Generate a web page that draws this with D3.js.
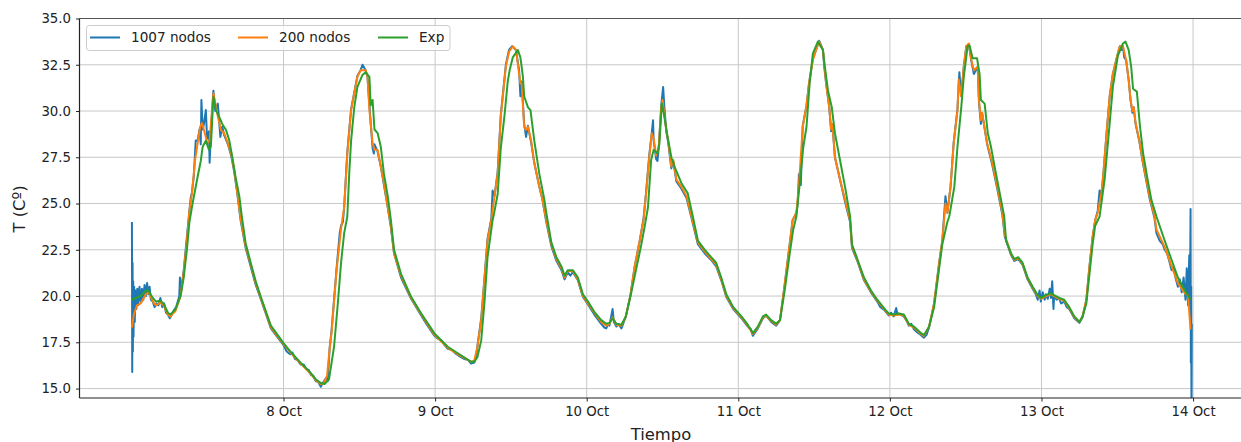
<!DOCTYPE html>
<html>
<head>
<meta charset="utf-8">
<script src="https://cdn.jsdelivr.net/npm/d3@7"></script>
<style>
  body { margin: 0; background: #fff; }
  svg { display: block; font-family: "DejaVu Sans", sans-serif; }
</style>
</head>
<body>
<svg width="1241" height="442"></svg>
<script>
// hours since 7 Oct 00:00, temperature in ºC
var series1007 = [
[0.0,24.0],[0.05,15.9],[0.1,21.8],[0.15,17.0],[0.2,20.8],[0.25,17.8],[0.35,20.5],[0.45,18.6],[0.55,20.3],[0.7,19.3],[0.85,20.4],[1.0,19.5],[1.2,20.5],[1.4,19.7],[1.6,20.4],[1.8,19.8],[2.0,20.6],[2.2,20.0],[2.4,20.7],[2.6,20.1],[2.8,20.5],[3.0,19.8],[3.3,19.7],[3.6,19.4],[3.9,19.6],[4.2,19.5],[4.5,19.9],[4.8,19.4],[5.1,19.6],[5.4,19.1],[5.7,19.0],[6.0,18.8],[6.3,19.0],[6.6,19.2],[7.0,19.4],[7.5,20.0],[7.6,21.0],[7.8,20.3],[8.2,21.4],[8.7,23.2],[9.1,24.6],[9.3,25.3],[9.5,25.6],[9.8,26.5],[10.1,28.4],[10.4,28.4],[10.7,29.0],[10.9,28.2],[11.0,30.6],[11.2,29.0],[11.4,29.3],[11.7,30.05],[11.9,28.5],[12.2,28.9],[12.3,27.2],[12.6,29.5],[12.9,31.1],[13.2,30.0],[13.6,30.4],[14.0,28.6],[14.3,29.15],[14.6,28.7],[15.2,28.2],[15.7,27.6],[16.2,26.7],[16.7,25.5],[17.2,24.1],[18.0,22.6],[18.8,21.6],[19.6,20.6],[20.4,19.85],[22.0,18.25],[24.0,17.35],[24.5,17.0],[25.1,16.85],[25.4,16.95],[25.8,16.6],[26.2,16.55],[26.7,16.3],[27.2,16.3],[27.6,16.05],[28.0,16.0],[28.3,15.75],[28.7,15.7],[29.1,15.4],[29.5,15.35],[29.9,15.1],[30.2,15.3],[30.5,15.45],[30.8,15.6],[31.0,15.4],[31.3,17.2],[31.6,18.1],[32.4,21.5],[32.9,23.4],[33.1,23.8],[33.4,24.0],[33.6,24.8],[34.1,27.8],[34.7,30.1],[35.2,31.0],[35.7,31.9],[36.2,32.2],[36.5,32.5],[37.0,32.2],[37.3,31.8],[37.6,30.3],[37.8,29.35],[38.1,28.0],[38.3,27.7],[38.4,28.2],[38.9,27.8],[39.4,27.0],[39.9,26.0],[40.5,24.8],[41.0,23.7],[41.5,22.3],[42.6,21.0],[44.2,19.85],[45.8,18.95],[46.6,18.5],[47.9,17.85],[48.4,17.7],[49.0,17.6],[49.5,17.35],[50.0,17.15],[50.6,17.1],[51.2,16.9],[52.1,16.7],[52.6,16.6],[53.2,16.55],[53.7,16.35],[54.2,16.4],[54.5,16.7],[54.7,17.3],[55.3,18.8],[55.8,20.9],[56.3,23.1],[56.9,24.2],[57.1,25.7],[57.4,25.4],[57.9,26.7],[58.4,29.8],[59.2,32.5],[59.7,33.3],[60.2,33.5],[60.8,33.3],[61.3,32.2],[61.5,30.8],[61.7,31.6],[62.1,29.3],[62.4,28.6],[62.7,29.2],[63.2,28.3],[63.7,27.2],[64.5,25.9],[65.0,25.2],[65.6,24.0],[66.4,22.7],[67.2,21.9],[68.0,21.4],[68.5,20.9],[69.0,21.3],[69.4,21.1],[69.8,21.3],[70.6,20.85],[71.4,19.95],[72.2,19.55],[73.2,19.0],[74.3,18.5],[74.8,18.3],[75.1,18.25],[75.4,18.5],[75.6,18.4],[76.1,19.3],[76.3,18.6],[76.7,18.35],[77.0,18.5],[77.5,18.25],[78.2,18.9],[78.9,20.0],[79.6,21.6],[80.4,23.0],[81.0,24.2],[81.4,25.6],[81.9,27.6],[82.3,28.8],[82.5,29.5],[82.6,28.4],[83.0,27.4],[83.2,27.3],[83.4,28.0],[83.8,30.3],[84.1,31.3],[84.3,30.2],[84.6,28.9],[84.9,28.3],[85.4,26.9],[85.7,27.3],[86.2,26.2],[87.0,25.8],[87.8,25.3],[88.6,24.2],[89.6,22.8],[90.7,22.3],[91.7,21.95],[92.5,21.6],[93.3,20.85],[94.1,19.95],[95.2,19.3],[96.5,18.8],[97.5,18.35],[98.0,18.2],[98.3,17.85],[98.6,18.0],[99.1,18.25],[99.9,18.8],[100.4,18.95],[101.2,18.6],[102.0,18.4],[102.6,18.7],[103.3,20.5],[104.1,22.7],[104.6,24.1],[105.2,24.5],[105.4,25.0],[105.6,26.6],[105.9,26.0],[106.2,29.2],[106.8,30.3],[107.2,31.5],[107.8,32.8],[108.3,33.3],[108.8,33.8],[109.4,33.3],[109.6,32.4],[109.9,31.5],[110.4,30.2],[110.7,28.9],[110.9,29.3],[111.3,27.5],[112.1,26.3],[112.9,25.1],[113.7,24.0],[114.0,22.6],
[114.9,21.85],[115.9,20.85],[117.0,20.2],[118.0,19.7],[118.5,19.4],[119.1,19.25],[119.8,18.95],[120.2,19.1],[120.6,18.9],[121.0,19.35],[121.2,19.0],[121.4,19.05],[122.2,18.9],[122.6,18.7],[123.0,18.4],[123.4,18.5],[123.8,18.2],[124.3,18.05],[124.9,17.9],[125.4,17.75],[125.8,17.9],[126.2,18.3],[127.0,19.6],[127.8,21.8],[128.3,23.0],[128.8,25.4],[129.1,24.5],[129.6,25.9],[130.1,28.3],[130.7,30.1],[131.0,32.1],[131.3,30.8],[131.7,32.4],[132.1,33.5],[132.5,33.6],[132.9,32.7],[133.3,32.0],[133.9,32.4],[134.1,30.5],[134.4,29.3],[134.6,29.9],[135.4,28.2],[136.2,27.1],[137.0,25.8],[137.8,24.4],[138.2,23.2],[139.2,22.2],[139.7,21.9],[140.3,22.0],[141.0,21.7],[141.8,20.9],[142.6,20.4],[143.1,20.1],[143.4,19.8],[143.7,20.3],[143.9,19.7],[144.2,20.2],[144.5,19.8],[144.7,20.1],[145.0,19.85],[145.3,20.4],[145.5,19.9],[145.7,20.8],[145.9,19.3],[146.0,20.0],[146.4,19.8],[146.8,19.9],[147.1,19.6],[147.6,19.7],[148.0,19.4],[148.4,19.3],[149.2,18.8],[150.0,18.55],[150.5,18.85],[151.1,19.8],[151.6,21.6],[152.1,23.2],[152.5,24.1],[152.9,24.6],[153.2,25.7],[153.5,25.5],[153.8,26.6],[154.3,28.8],[154.8,30.8],[155.3,32.0],[155.9,32.85],[156.4,33.5],[156.7,33.3],[156.9,33.5],[157.1,32.9],[157.4,32.75],[157.8,31.7],[158.1,30.6],[158.4,29.9],[158.6,30.2],[158.9,29.3],[159.5,28.35],[160.0,27.3],[160.6,26.2],[161.1,25.3],[161.9,24.2],[162.2,23.4],[162.7,23.0],[163.2,22.8],[163.5,22.5],[163.9,22.3],[164.3,21.8],[164.6,21.4],[164.9,21.6],[165.2,21.0],[165.6,20.5],[165.9,20.9],[166.2,20.2],[166.5,21.0],[166.8,19.8],[167.0,21.5],[167.2,19.5],[167.4,22.2],[167.5,19.0],[167.6,24.7],[167.65,16.4],[167.7,20.5],[167.75,13.5],[167.8,18.5]
];

var series200 = [
[0,18.3],[0.3,19.0],[0.8,19.5],[1.4,19.6],[2.2,20.1],[2.7,20.2],[3.3,19.7],[3.8,19.5],[4.5,19.65],[5.0,19.5],[5.7,19.0],[6.1,18.9],[6.9,19.2],[7.7,20.0],[8.2,21.3],[8.7,23.0],[9.1,24.6],[9.5,25.55],[10.0,27.35],[10.8,29.15],[11.1,29.35],[11.7,28.6],[11.9,28.25],[12.3,28.4],[12.9,30.96],[13.6,29.7],[14.1,28.97],[14.6,28.8],[15.2,28.25],[15.7,27.7],[16.2,26.8],[16.7,25.55],[17.2,24.2],[18.0,22.7],[18.8,21.7],[19.6,20.7],[20.4,19.9],[22.0,18.3],[24.0,17.4],[25.1,16.95],[26.7,16.35],[28.3,15.8],[29.1,15.45],[29.9,15.25],[30.4,15.3],[30.9,15.7],[31.2,16.8],[31.6,18.0],[32.4,21.4],[33.1,23.6],[33.6,24.8],[34.1,27.7],[34.7,30.05],[35.2,30.96],[35.7,31.85],[36.2,32.2],[37.0,32.2],[37.3,31.85],[37.6,30.05],[37.8,29.35],[38.1,28.25],[38.4,27.9],[38.9,27.9],[39.4,27.0],[39.9,26.1],[40.5,24.8],[41.0,23.8],[41.5,22.3],[42.6,21.1],[44.2,19.9],[45.8,19.0],[47.9,17.9],[50.0,17.2],[52.1,16.75],[53.7,16.45],[54.2,16.5],[54.7,17.26],[55.3,18.7],[55.8,20.86],[56.3,23.0],[56.9,24.1],[57.4,25.4],[57.9,26.6],[58.4,29.7],[59.2,32.4],[59.7,33.2],[60.3,33.5],[60.8,33.3],[61.3,32.0],[61.5,31.5],[61.7,31.5],[62.1,29.15],[62.4,28.97],[62.7,29.15],[63.2,28.4],[63.7,27.2],[64.5,25.9],[65.0,25.2],[65.6,24.1],[66.4,22.8],[67.2,22.0],[68.0,21.5],[68.5,21.0],[69.0,21.35],[69.8,21.35],[70.6,20.9],[71.4,20.0],[72.2,19.6],[73.2,19.1],[74.3,18.6],[75.1,18.4],[75.6,18.5],[76.1,18.85],[76.7,18.45],[77.5,18.4],[78.2,18.9],[78.9,20.0],[79.6,21.6],[80.4,23.0],[81.0,24.1],[81.4,25.55],[81.9,27.5],[82.3,28.8],[82.6,28.5],[83.0,27.6],[83.4,28.0],[83.8,30.2],[84.0,30.6],[84.6,28.97],[84.9,28.4],[85.4,27.0],[85.7,27.35],[86.2,26.3],[87.0,25.9],[87.8,25.4],[88.6,24.3],[89.6,22.9],[90.7,22.4],[91.7,22.0],[92.5,21.7],[93.3,20.9],[94.1,20.0],[95.2,19.35],[96.5,18.85],[97.5,18.4],[98.3,17.95],[99.1,18.3],[99.9,18.85],[100.4,18.95],[101.2,18.65],[102.0,18.45],[102.6,18.7],[103.3,20.5],[104.1,22.7],[104.6,24.1],[105.2,24.5],[105.6,26.0],[106.2,29.15],[106.8,30.3],[107.2,31.5],[107.8,32.75],[108.3,33.3],[108.8,33.75],[109.4,33.3],[109.6,32.6],[109.9,31.5],[110.4,30.2],[110.7,29.0],[110.9,29.3],[111.3,27.5],[112.1,26.3],[112.9,25.2],[113.7,24.1],[114.0,22.7],
[114.9,21.9],[115.9,20.9],[117.0,20.25],[118.0,19.75],[119.1,19.3],[119.8,19.0],[120.6,18.95],[121.4,19.0],[122.2,18.95],[123.0,18.45],[123.8,18.3],[124.9,17.95],[125.4,17.85],[126.2,18.34],[127.0,19.6],[127.8,21.77],[128.3,23.0],[128.8,25.0],[129.1,24.5],[129.6,25.9],[130.1,28.25],[130.7,30.05],[130.9,31.7],[131.3,30.8],[131.7,32.4],[132.1,33.5],[132.5,33.65],[132.9,32.75],[133.3,32.2],[133.9,32.4],[134.1,30.6],[134.4,29.5],[134.6,29.9],[135.4,28.25],[136.2,27.2],[137.0,25.9],[137.8,24.5],[138.2,23.3],[139.2,22.25],[139.7,21.95],[140.3,22.05],[141.0,21.75],[141.8,20.95],[142.6,20.45],[143.4,20.0],[143.9,19.85],[144.7,20.0],[145.5,20.1],[146.0,20.0],[146.8,19.85],[147.6,19.75],[148.4,19.35],[149.2,18.85],[150.0,18.6],[150.5,18.9],[151.1,19.8],[151.6,21.6],[152.1,23.2],[152.5,24.1],[152.9,24.5],[153.5,25.6],[153.8,26.6],[154.3,28.8],[154.8,30.8],[155.3,32.0],[155.9,32.85],[156.4,33.5],[156.9,33.5],[157.4,32.75],[157.8,31.7],[158.1,30.6],[158.4,30.0],[158.6,30.2],[158.9,29.35],[159.5,28.4],[160.0,27.35],[160.6,26.3],[161.1,25.4],[161.9,24.3],[162.2,23.6],[163.5,22.66],[164.6,21.6],[165.6,20.7],[166.7,20.15],[167.2,20.05],[167.6,18.2]
];

var seriesExp = [
[0,19.8],[0.6,19.9],[1.4,20.0],[2.2,20.3],[2.6,20.3],[3.3,19.9],[3.8,19.7],[4.5,19.75],[5.0,19.6],[5.7,19.1],[6.1,19.0],[6.9,19.3],[7.7,20.0],[8.2,21.0],[8.7,22.5],[9.1,24.0],[9.6,25.0],[10.4,26.45],[10.9,27.3],[11.2,28.07],[11.7,28.4],[12.2,27.9],[12.5,28.1],[12.9,30.77],[13.3,30.05],[13.8,29.7],[14.3,29.3],[14.9,28.97],[15.4,28.43],[15.9,27.5],[16.4,26.45],[17.0,25.4],[17.4,24.3],[18.0,22.86],[18.8,21.8],[19.6,20.8],[20.4,19.96],[22.0,18.4],[24.0,17.46],[25.1,17.0],[26.7,16.4],[28.3,15.85],[29.1,15.5],[29.9,15.3],[30.5,15.25],[31.2,15.5],[32.0,17.26],[32.6,19.6],[33.1,21.77],[33.6,23.4],[34.1,24.3],[34.4,26.6],[34.7,28.4],[35.2,30.2],[35.7,31.3],[36.5,31.95],[37.0,32.1],[37.6,31.85],[37.8,30.3],[38.1,30.6],[38.4,29.0],[38.9,28.8],[39.4,28.07],[39.9,26.6],[40.5,25.4],[41.0,24.1],[41.5,22.5],[42.6,21.2],[44.2,19.96],[45.8,19.06],[47.9,17.98],[50.0,17.26],[52.1,16.8],[53.7,16.45],[54.2,16.45],[54.7,16.7],[55.3,17.6],[55.8,19.6],[56.3,22.1],[57.1,24.1],[57.3,24.4],[57.9,25.5],[58.4,28.0],[59.0,29.8],[59.5,31.6],[59.8,32.2],[60.3,32.9],[61.1,33.3],[61.5,32.9],[61.7,32.4],[61.9,31.85],[62.1,30.8],[62.7,30.2],[63.1,30.05],[63.7,28.4],[64.5,26.6],[65.3,25.2],[65.6,24.5],[66.4,22.9],[67.2,22.1],[68.0,21.6],[68.5,21.1],[69.0,21.4],[69.8,21.4],[70.6,21.0],[71.4,20.1],[72.2,19.7],[73.2,19.15],[74.3,18.7],[75.1,18.5],[75.6,18.55],[76.1,18.8],[76.7,18.5],[77.5,18.45],[78.2,18.9],[79.0,20.1],[79.8,21.4],[80.6,22.7],[81.2,23.8],[81.7,24.8],[82.2,27.35],[82.6,27.9],[83.2,27.7],[83.5,28.2],[83.9,30.4],[84.2,29.9],[84.7,28.8],[85.4,27.5],[85.9,27.0],[87.0,26.1],[88.0,25.55],[88.8,24.3],[89.6,23.0],[90.7,22.5],[91.7,22.1],[92.5,21.8],[93.3,21.0],[94.1,20.1],[95.2,19.4],[96.5,18.9],[97.5,18.45],[98.3,18.0],[99.1,18.35],[99.9,18.9],[100.4,19.0],[101.2,18.7],[102.0,18.5],[102.6,18.7],[103.3,20.2],[104.1,22.2],[104.7,23.6],[105.2,24.3],[105.7,26.0],[106.3,28.07],[106.8,29.15],[107.3,31.5],[107.8,33.1],[108.6,33.75],[109.4,33.3],[109.7,32.4],[110.2,31.1],[110.8,30.2],[111.3,28.8],[112.1,27.35],[112.9,25.9],[113.7,24.3],[114.0,22.8],
[114.9,21.95],[115.9,21.0],[117.0,20.3],[118.0,19.8],[119.1,19.33],[119.8,19.06],[120.6,19.0],[121.4,19.06],[122.2,19.0],[123.0,18.5],[123.8,18.35],[124.9,18.0],[125.4,17.9],[126.2,18.34],[127.0,19.4],[127.8,21.5],[128.3,22.8],[129.1,24.0],[129.4,24.3],[130.2,25.9],[130.7,28.07],[131.3,30.2],[131.7,31.85],[132.3,33.5],[132.6,33.55],[133.1,32.85],[133.8,32.85],[134.2,32.0],[134.4,30.6],[135.0,30.4],[135.5,28.8],[136.0,28.07],[136.8,26.6],[137.6,25.2],[138.1,24.3],[138.4,23.0],[139.2,22.3],[139.7,22.0],[140.3,22.1],[141.0,21.8],[141.8,21.0],[142.6,20.5],[143.4,20.05],[143.9,19.9],[144.7,20.05],[145.5,20.15],[146.0,20.05],[146.8,19.9],[147.6,19.8],[148.4,19.4],[149.2,18.9],[150.0,18.6],[150.5,18.9],[151.1,19.6],[151.6,21.2],[152.1,22.8],[152.5,23.8],[153.2,24.3],[154.0,26.3],[154.8,29.35],[155.3,31.3],[156.1,33.0],[156.9,33.65],[157.3,33.75],[157.8,33.3],[158.2,32.4],[158.5,31.2],[159.1,31.05],[159.6,29.15],[160.1,27.7],[160.8,26.3],[161.4,25.2],[162.2,24.3],[163.5,23.0],[164.6,21.95],[165.6,21.0],[166.7,20.3],[167.6,19.8]
];

var seriesNames = ["1007 nodos", "200 nodos", "Exp"];
var seriesColors = ["#1f77b4", "#ff7f0e", "#2ca02c"];
var yTicks = [15.0, 17.5, 20.0, 22.5, 25.0, 27.5, 30.0, 32.5, 35.0];
var yLimits = [14.49, 35.0];
var xPadHours = 8.3;

var svg = d3.select("svg"),
    box = {left: 79.5, top: 18.5, right: 1245.5, bottom: 398};

var start = new Date(2019, 9, 7, 0, 0);
function toDate(h) { return new Date(start.getTime() + h * 3600e3); }

var x = d3.scaleTime()
    .domain([toDate(-xPadHours), toDate(168 + xPadHours)])
    .range([box.left, box.right]);
var y = d3.scaleLinear().domain(yLimits).range([box.bottom, box.top]);

var dayTicks = d3.range(8, 15).map(function (d) { return new Date(2019, 9, d); });

svg.append("rect").attr("width", 1241).attr("height", 442).attr("fill", "#fff");

// grid
var grid = svg.append("g").attr("stroke", "#c8c8c8").attr("stroke-width", 1);
grid.selectAll(".vg").data(dayTicks).enter().append("line")
    .attr("x1", function (d) { return x(d); }).attr("x2", function (d) { return x(d); })
    .attr("y1", box.top).attr("y2", box.bottom);
grid.selectAll(".hg").data(yTicks).enter().append("line")
    .attr("x1", box.left).attr("x2", box.right)
    .attr("y1", function (d) { return y(d); }).attr("y2", function (d) { return y(d); });

svg.append("clipPath").attr("id", "plot")
    .append("rect").attr("x", box.left).attr("y", box.top)
    .attr("width", box.right - box.left).attr("height", box.bottom - box.top);

var line = d3.line()
    .x(function (d) { return x(toDate(d[0])); })
    .y(function (d) { return y(d[1]); });

svg.append("g").attr("clip-path", "url(#plot)")
    .selectAll("path")
    .data([series1007, series200, seriesExp])
    .enter().append("path")
    .attr("d", line)
    .attr("fill", "none")
    .attr("stroke", function (d, i) { return seriesColors[i]; })
    .attr("stroke-width", 2)
    .attr("stroke-linejoin", "round");

// axes
var xAxis = svg.append("g")
    .attr("transform", "translate(0," + box.bottom + ")")
    .call(d3.axisBottom(x).tickValues(dayTicks).tickFormat(d3.timeFormat("%-d %b")).tickSize(3.5).tickPadding(5));
var yAxis = svg.append("g")
    .attr("transform", "translate(" + box.left + ",0)")
    .call(d3.axisLeft(y).tickValues(yTicks).tickFormat(d3.format(".1f")).tickSize(3.5).tickPadding(5));

[xAxis, yAxis].forEach(function (a) {
    a.select(".domain").remove();
    a.selectAll("line").attr("stroke", "#222").attr("stroke-width", 1);
    a.selectAll("text").attr("font-size", 13.3).attr("fill", "#222")
        .attr("font-family", "DejaVu Sans, sans-serif");
});

// spines
svg.append("line").attr("x1", box.left).attr("x2", box.right).attr("y1", box.top).attr("y2", box.top)
    .attr("stroke", "#555").attr("stroke-width", 1);
svg.append("line").attr("x1", box.left).attr("x2", box.left).attr("y1", box.top).attr("y2", box.bottom)
    .attr("stroke", "#222").attr("stroke-width", 1.2);
svg.append("line").attr("x1", box.left).attr("x2", box.right).attr("y1", box.bottom).attr("y2", box.bottom)
    .attr("stroke", "#222").attr("stroke-width", 1.2);

// labels
svg.append("text").attr("x", 661).attr("y", 440).attr("text-anchor", "middle")
    .attr("font-size", 16.4).attr("fill", "#222").text("Tiempo");
svg.append("text").attr("transform", "translate(25,209) rotate(-90)").attr("text-anchor", "middle")
    .attr("font-size", 16.4).attr("fill", "#222").text("T (Cº)");

// legend
var legend = svg.append("g");
legend.append("rect").attr("x", 86.5).attr("y", 25.5).attr("width", 363.5).attr("height", 25)
    .attr("rx", 3).attr("fill", "#fff").attr("fill-opacity", 0.8).attr("stroke", "#cccccc");
var legendX = [90, 238, 378];
var item = legend.selectAll(".item").data(seriesNames).enter().append("g")
    .attr("transform", function (d, i) { return "translate(" + legendX[i] + ",37.5)"; });
item.append("line").attr("x1", 0).attr("x2", 30)
    .attr("stroke", function (d, i) { return seriesColors[i]; }).attr("stroke-width", 2);
item.append("text").attr("x", 41).attr("y", 4.5).attr("font-size", 13.6).attr("fill", "#222")
    .text(function (d) { return d; });
</script>
</body>
</html>
